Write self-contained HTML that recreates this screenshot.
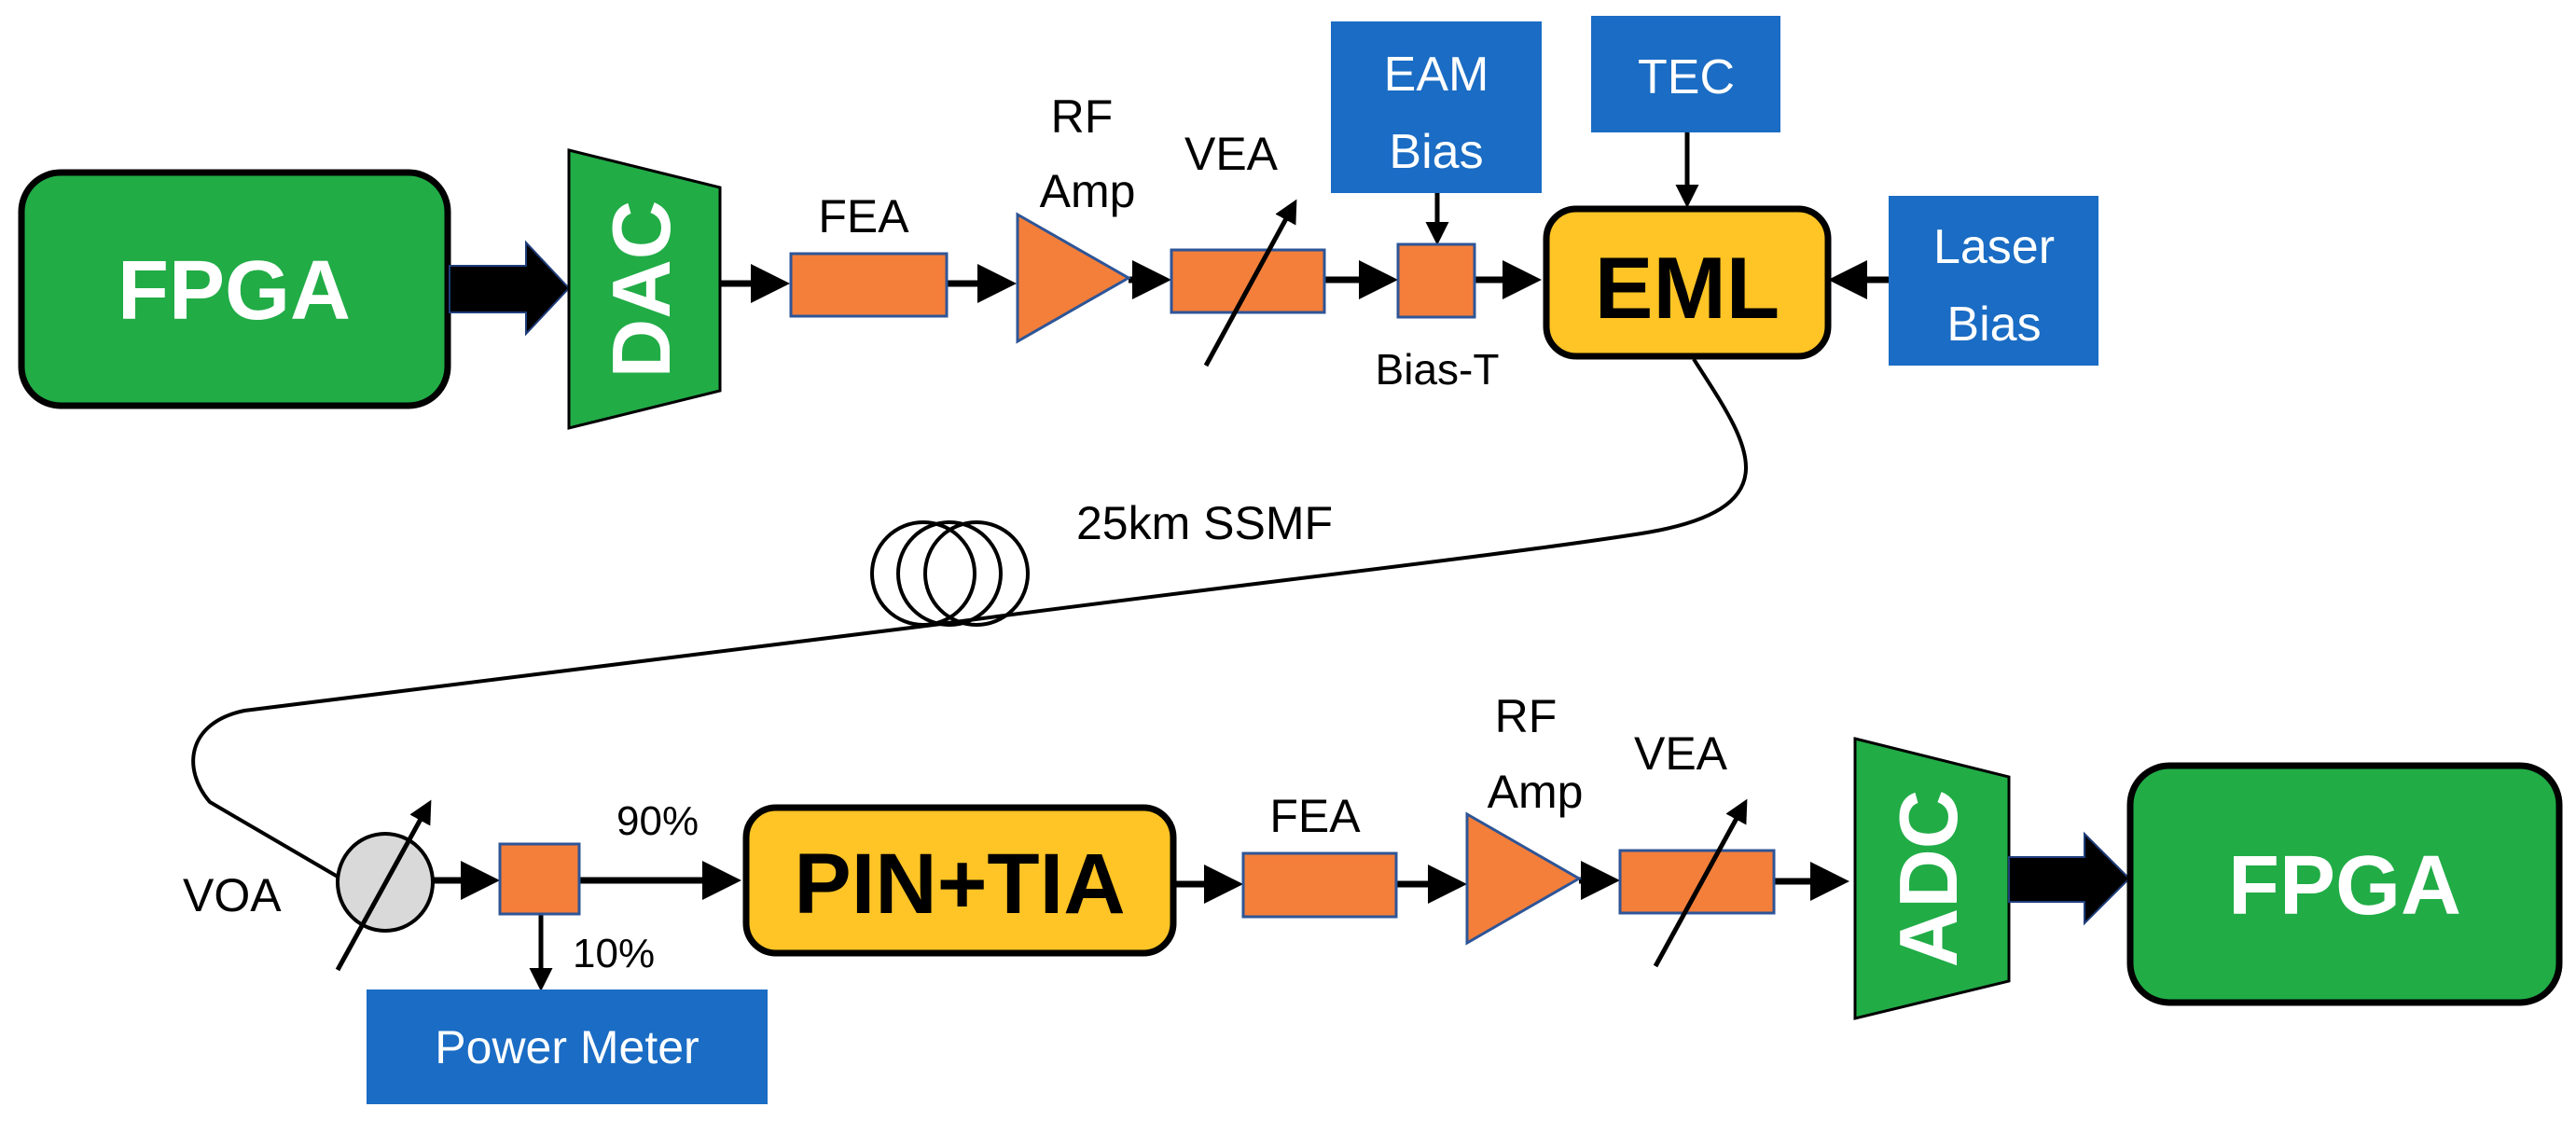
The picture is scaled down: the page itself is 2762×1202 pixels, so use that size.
<!DOCTYPE html>
<html><head><meta charset="utf-8"><style>
html,body{margin:0;padding:0;background:#fff;}
svg{display:block;}
text{font-family:"Liberation Sans",sans-serif;}
</style></head><body>
<svg width="2762" height="1202" viewBox="0 0 2762 1202" xmlns="http://www.w3.org/2000/svg">
<defs>
<marker id="ah" markerWidth="6" markerHeight="6" refX="5" refY="3" orient="auto" markerUnits="strokeWidth">
<path d="M0,0 L6,3 L0,6 z" fill="#000"/></marker>
<marker id="ah2" markerWidth="5" markerHeight="5" refX="4" refY="2.5" orient="auto" markerUnits="strokeWidth">
<path d="M0,0 L5,2.5 L0,5 z" fill="#000"/></marker>
</defs>

<!-- FPGA 1 -->
<rect x="23" y="185" width="457" height="250" rx="42" fill="#21AC46" stroke="#000" stroke-width="7"/>
<text x="251" y="342" font-size="90" font-weight="bold" fill="#fff" text-anchor="middle">FPGA</text>
<!-- big arrow -->
<path d="M482,285 L564,285 L564,260 L610,309 L564,358 L564,335 L482,335 z" fill="#000" stroke="#1f3d7a" stroke-width="2"/>
<!-- DAC -->
<path d="M610,161 L772,201 L772,419 L610,459 z" fill="#21AC46" stroke="#000" stroke-width="3"/>
<text transform="translate(718,310) rotate(-90)" font-size="88" font-weight="bold" fill="#fff" text-anchor="middle">DAC</text>

<!-- top chain arrows -->
<g stroke="#000" stroke-width="7" fill="none">
<line x1="772" y1="304" x2="840" y2="304" marker-end="url(#ah)"/>
<line x1="1015" y1="304" x2="1083" y2="304" marker-end="url(#ah)"/>
<line x1="1210" y1="300" x2="1249" y2="300" marker-end="url(#ah)"/>
<line x1="1420" y1="300" x2="1492" y2="300" marker-end="url(#ah)"/>
<line x1="1581" y1="300" x2="1646" y2="300" marker-end="url(#ah)"/>
<line x1="2025" y1="300" x2="1967" y2="300" marker-end="url(#ah)"/>
</g>
<g stroke="#000" stroke-width="5" fill="none">
<line x1="1541" y1="207" x2="1541" y2="258" marker-end="url(#ah2)"/>
<line x1="1809" y1="142" x2="1809" y2="218" marker-end="url(#ah2)"/>
</g>

<!-- FEA -->
<rect x="848" y="272" width="167" height="67" fill="#F47F3A" stroke="#2E5597" stroke-width="3"/>
<text x="926" y="249" font-size="50" text-anchor="middle" fill="#000">FEA</text>
<!-- RF Amp -->
<path d="M1091,230 L1210,298 L1091,366 z" fill="#F47F3A" stroke="#2E5597" stroke-width="3"/>
<text x="1160" y="142" font-size="50" text-anchor="middle">RF</text>
<text x="1166" y="222" font-size="50" text-anchor="middle">Amp</text>
<!-- VEA -->
<rect x="1256" y="268" width="164" height="67" fill="#F47F3A" stroke="#2E5597" stroke-width="3"/>
<text x="1320" y="182" font-size="50" text-anchor="middle">VEA</text>
<line x1="1293" y1="392" x2="1388" y2="218" stroke="#000" stroke-width="5" marker-end="url(#ah2)"/>
<!-- Bias-T -->
<rect x="1499" y="262" width="82" height="78" fill="#F47F3A" stroke="#2E5597" stroke-width="3"/>
<text x="1541" y="412" font-size="46" text-anchor="middle">Bias-T</text>
<!-- EAM Bias -->
<rect x="1427" y="23" width="226" height="184" fill="#1A6CC4"/>
<text x="1540" y="97" font-size="52" fill="#fff" text-anchor="middle">EAM</text>
<text x="1540" y="180" font-size="52" fill="#fff" text-anchor="middle">Bias</text>
<!-- TEC -->
<rect x="1706" y="17" width="203" height="125" fill="#1A6CC4"/>
<text x="1808" y="100" font-size="52" fill="#fff" text-anchor="middle">TEC</text>
<!-- Laser Bias -->
<rect x="2025" y="210" width="225" height="182" fill="#1A6CC4"/>
<text x="2138" y="282" font-size="52" fill="#fff" text-anchor="middle">Laser</text>
<text x="2138" y="365" font-size="52" fill="#fff" text-anchor="middle">Bias</text>
<!-- EML -->
<rect x="1658" y="224" width="302" height="158" rx="32" fill="#FFC425" stroke="#000" stroke-width="7"/>
<text x="1809" y="341" font-size="94" font-weight="bold" text-anchor="middle">EML</text>

<!-- fiber -->
<path d="M1816,385 C1870,470 1930,545 1760,572 C1600,597 1300,630 1009,669 L262,762 C200,775 195,825 225,860 L362,940" fill="none" stroke="#000" stroke-width="4"/>
<g fill="none" stroke="#000" stroke-width="4">
<ellipse cx="990" cy="615" rx="55" ry="55"/>
<ellipse cx="1018" cy="615" rx="55" ry="55"/>
<ellipse cx="1047" cy="615" rx="55" ry="55"/>
</g>
<text x="1154" y="578" font-size="50">25km SSMF</text>

<!-- VOA -->
<text x="196" y="977" font-size="50">VOA</text>
<ellipse cx="413" cy="946" rx="51" ry="52" fill="#D9D9D9" stroke="#000" stroke-width="4"/>
<line x1="362" y1="1040" x2="460" y2="862" stroke="#000" stroke-width="5" marker-end="url(#ah2)"/>
<g stroke="#000" stroke-width="7" fill="none">
<line x1="464" y1="944" x2="529" y2="944" marker-end="url(#ah)"/>
<line x1="621" y1="944" x2="788" y2="944" marker-end="url(#ah)"/>
<line x1="1259" y1="948" x2="1326" y2="948" marker-end="url(#ah)"/>
<line x1="1497" y1="948" x2="1566" y2="948" marker-end="url(#ah)"/>
<line x1="1693" y1="944" x2="1730" y2="944" marker-end="url(#ah)"/>
<line x1="1902" y1="945" x2="1976" y2="945" marker-end="url(#ah)"/>
</g>
<line x1="580" y1="980" x2="580" y2="1058" stroke="#000" stroke-width="5" marker-end="url(#ah2)"/>
<!-- splitter -->
<rect x="536" y="905" width="85" height="75" fill="#F47F3A" stroke="#2E5597" stroke-width="3"/>
<text x="661" y="895" font-size="44">90%</text>
<text x="614" y="1037" font-size="44">10%</text>
<!-- Power meter -->
<rect x="393" y="1061" width="430" height="123" fill="#1A6CC4"/>
<text x="608" y="1140" font-size="50" fill="#fff" text-anchor="middle">Power Meter</text>
<!-- PIN+TIA -->
<rect x="800" y="866" width="458" height="156" rx="32" fill="#FFC425" stroke="#000" stroke-width="7"/>
<text x="1029" y="979" font-size="92" font-weight="bold" text-anchor="middle">PIN+TIA</text>

<!-- FEA2 -->
<rect x="1333" y="915" width="164" height="68" fill="#F47F3A" stroke="#2E5597" stroke-width="3"/>
<text x="1410" y="892" font-size="50" text-anchor="middle">FEA</text>
<!-- Amp2 -->
<path d="M1573,873 L1693,942 L1573,1011 z" fill="#F47F3A" stroke="#2E5597" stroke-width="3"/>
<text x="1636" y="785" font-size="50" text-anchor="middle">RF</text>
<text x="1646" y="866" font-size="50" text-anchor="middle">Amp</text>
<!-- VEA2 -->
<rect x="1737" y="912" width="165" height="67" fill="#F47F3A" stroke="#2E5597" stroke-width="3"/>
<text x="1802" y="825" font-size="50" text-anchor="middle">VEA</text>
<line x1="1775" y1="1036" x2="1871" y2="861" stroke="#000" stroke-width="5" marker-end="url(#ah2)"/>
<!-- ADC -->
<path d="M1989,792 L2154,833 L2154,1052 L1989,1092 z" fill="#21AC46" stroke="#000" stroke-width="3"/>
<text transform="translate(2098,942) rotate(-90)" font-size="88" font-weight="bold" fill="#fff" text-anchor="middle">ADC</text>
<path d="M2154,919 L2235,919 L2235,894 L2283,942 L2235,990 L2235,967 L2154,967 z" fill="#000" stroke="#1f3d7a" stroke-width="2"/>
<!-- FPGA2 -->
<rect x="2284" y="821" width="460" height="254" rx="42" fill="#21AC46" stroke="#000" stroke-width="7"/>
<text x="2514" y="980" font-size="90" font-weight="bold" fill="#fff" text-anchor="middle">FPGA</text>
</svg>
</body></html>
